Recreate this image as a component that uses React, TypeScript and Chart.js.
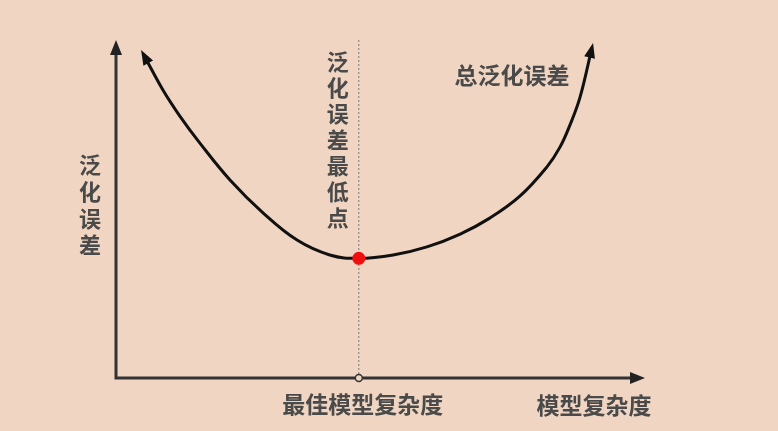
import React, { useEffect, useRef } from "react";
import { Chart, registerables } from "chart.js";

Chart.register(...registerables);

// Model complexity (0-100) and total generalization error (0-100) along the U-shaped curve
const complexity = [5.1, 8.7, 11.9, 15.7, 21.4, 27.7, 34.1, 40.3, 45.8, 52.3, 58.7, 65.0, 70.6, 76.3, 81.4, 83.9, 85.8, 87.7, 89.9];
const generalizationError = [95.5, 85.2, 77.5, 69.5, 58.6, 48.8, 40.8, 36.4, 35.4, 36.4, 38.8, 42.6, 47.3, 53.8, 62.4, 68.3, 74.9, 83.1, 97.4];

const bestComplexity = [45.8];
const bestError = [35.4];

const yAxisLabel = "泛化误差";
const xAxisLabel = "模型复杂度";
const curveLabel = "总泛化误差";
const bestPointLabel = "泛化误差最低点";
const bestTickLabel = "最佳模型复杂度";

const BG = "#F0D6C2";
const TEXT = "#4a4a4a";
const FONT = '"Noto Sans CJK SC", "Noto Sans", sans-serif';

function arrowHead(ctx: CanvasRenderingContext2D, tx: number, ty: number, ang: number, len: number, hw: number, color: string) {
  const bx = tx - Math.cos(ang) * len;
  const by = ty - Math.sin(ang) * len;
  const nx = -Math.sin(ang);
  const ny = Math.cos(ang);
  ctx.save();
  ctx.fillStyle = color;
  ctx.beginPath();
  ctx.moveTo(tx, ty);
  ctx.lineTo(bx + nx * hw, by + ny * hw);
  ctx.lineTo(bx - nx * hw, by - ny * hw);
  ctx.closePath();
  ctx.fill();
  ctx.restore();
}

function verticalText(ctx: CanvasRenderingContext2D, text: string, cx: number, cy0: number, step: number) {
  Array.from(text).forEach((ch, i) => {
    ctx.fillText(ch, cx, cy0 + i * step);
  });
}

const diagramPlugin = {
  id: "diagram",
  beforeDraw(chart: any) {
    const { ctx, width, height, chartArea, scales } = chart;
    const { left, right, top, bottom } = chartArea;
    ctx.save();
    ctx.fillStyle = BG;
    ctx.fillRect(0, 0, width, height);

    // dotted vertical line at best complexity
    const bx = scales.x.getPixelForValue(bestComplexity[0]);
    ctx.strokeStyle = "#777";
    ctx.lineWidth = 1;
    ctx.setLineDash([2, 2]);
    ctx.beginPath();
    ctx.moveTo(bx, top);
    ctx.lineTo(bx, bottom);
    ctx.stroke();
    ctx.setLineDash([]);

    // axes
    ctx.strokeStyle = "#333";
    ctx.lineWidth = 3;
    ctx.beginPath();
    ctx.moveTo(left - 1, top + 12);
    ctx.lineTo(left - 1, bottom);
    ctx.lineTo(right - 12, bottom);
    ctx.stroke();
    arrowHead(ctx, left - 1, top, -Math.PI / 2, 15, 6, "#222");
    arrowHead(ctx, right, bottom, 0, 15, 6, "#222");

    // labels
    ctx.fillStyle = TEXT;
    ctx.textAlign = "center";
    ctx.textBaseline = "middle";
    ctx.font = `bold 22px ${FONT}`;
    verticalText(ctx, bestPointLabel, bx - 21, 62, 26);
    verticalText(ctx, yAxisLabel, 90, 165, 26.7);
    ctx.font = `bold 23px ${FONT}`;
    ctx.fillText(curveLabel, 512, 75);
    ctx.fillText(bestTickLabel, bx + 4, 404);
    ctx.fillText(xAxisLabel, 594, 405);
    ctx.restore();
  },
  afterDatasetsDraw(chart: any) {
    const { ctx, scales, chartArea } = chart;
    const px = (i: number) => scales.x.getPixelForValue(complexity[i]);
    const py = (i: number) => scales.y.getPixelForValue(generalizationError[i]);
    const n = complexity.length;
    const a0 = Math.atan2(py(0) - py(1), px(0) - px(1));
    const a1 = Math.atan2(py(n - 1) - py(n - 2), px(n - 1) - px(n - 2));
    arrowHead(ctx, px(0) + Math.cos(a0) * 6, py(0) + Math.sin(a0) * 6, a0, 15, 5.5, "#111");
    arrowHead(ctx, px(n - 1) + Math.cos(a1) * 6, py(n - 1) + Math.sin(a1) * 6, a1, 15, 5.5, "#111");

    // hollow tick circle on x axis
    const bx = scales.x.getPixelForValue(bestComplexity[0]);
    ctx.save();
    ctx.fillStyle = BG;
    ctx.strokeStyle = "#333";
    ctx.lineWidth = 1.5;
    ctx.beginPath();
    ctx.arc(bx, chartArea.bottom, 3.5, 0, Math.PI * 2);
    ctx.fill();
    ctx.stroke();
    ctx.restore();
  },
};

export default function App() {
  const ref = useRef<HTMLCanvasElement | null>(null);
  useEffect(() => {
    if (!ref.current) return;
    const chart = new Chart(ref.current, {
      type: "scatter",
      data: {
        datasets: [
          {
            label: "best",
            data: bestComplexity.map((x, i) => ({ x, y: bestError[i] })),
            pointRadius: 6.5,
            pointBackgroundColor: "#ee0f0f",
            pointBorderWidth: 0,
            showLine: false,
          },
          {
            label: curveLabel,
            data: complexity.map((x, i) => ({ x, y: generalizationError[i] })),
            showLine: true,
            borderColor: "#111",
            borderWidth: 3,
            pointRadius: 0,
            tension: 0.4,
            borderCapStyle: "round",
          },
        ],
      },
      options: {
        responsive: false,
        animation: false,
        devicePixelRatio: 1,
        layout: { padding: { left: 117, right: 133, top: 40, bottom: 53 } },
        scales: {
          x: { type: "linear", min: 0, max: 100, display: false },
          y: { type: "linear", min: 0, max: 100, display: false },
        },
        plugins: { legend: { display: false }, tooltip: { enabled: false } },
        events: [],
      },
      plugins: [diagramPlugin],
    } as any);
    return () => chart.destroy();
  }, []);
  return (
    <div style={{ position: "absolute", left: 0, top: 0, width: 778, height: 431, background: BG }}>
      <canvas ref={ref} width={778} height={431} style={{ display: "block" }} />
    </div>
  );
}
